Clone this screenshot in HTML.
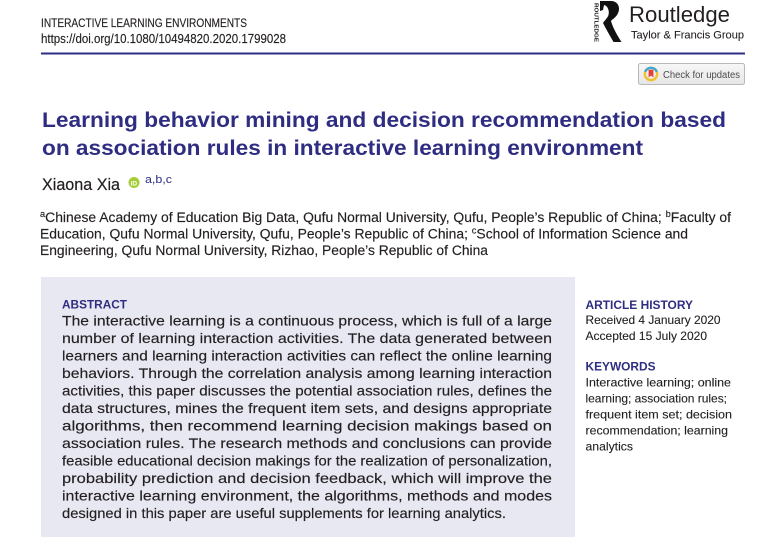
<!DOCTYPE html>
<html>
<head>
<meta charset="utf-8">
<style>
  html,body{margin:0;padding:0;background:#fff;}
  svg{display:block;}
  text{font-family:"Liberation Sans", sans-serif;}
</style>
</head>
<body>
<svg xmlns="http://www.w3.org/2000/svg" width="783" height="537" viewBox="0 0 783 537">
  <defs>
    <linearGradient id="btn" x1="0" y1="0" x2="0" y2="1">
      <stop offset="0" stop-color="#f7f7f7"/>
      <stop offset="1" stop-color="#e6e6e6"/>
    </linearGradient>
  </defs>
  <rect width="783" height="537" fill="#ffffff"/>

  <!-- Header -->
  <text x="41" y="27" font-size="11.5" fill="#231f20" stroke="#231f20" stroke-width="0.15" textLength="206" lengthAdjust="spacingAndGlyphs">INTERACTIVE LEARNING ENVIRONMENTS</text>
  <text x="41" y="43" font-size="12.5" fill="#231f20" stroke="#231f20" stroke-width="0.15" textLength="245" lengthAdjust="spacingAndGlyphs">https://doi.org/10.1080/10494820.2020.1799028</text>
  <rect x="41" y="52.5" width="704" height="2" fill="#2e2d82"/>

  <!-- Routledge logo -->
  <text transform="translate(594.5,3) rotate(90)" font-size="5.6" font-weight="bold" fill="#111" textLength="39" lengthAdjust="spacingAndGlyphs">ROUTLEDGE</text>
  <path d="M600,1 L612,1 C619,2 621,9 617,15 C615,18 612,19.5 611,21 C613,28 617,35 621.5,42 L613.5,42 C609.5,35 606,29 603,23 C605,20 607.5,18 608.5,15 C609.5,11 608,6 604,5 L603,10 L600,11 Z" fill="#111"/>
  <text x="629" y="22" font-size="22" fill="#231f20" textLength="101" lengthAdjust="spacingAndGlyphs">Routledge</text>
  <text x="631" y="38.5" font-size="11" fill="#231f20" stroke="#231f20" stroke-width="0.1" textLength="113" lengthAdjust="spacingAndGlyphs">Taylor &amp; Francis Group</text>

  <!-- Check for updates -->
  <rect x="638.5" y="63.5" width="106" height="21" rx="2" fill="url(#btn)" stroke="#b9b9b9"/>
  <circle cx="651" cy="74" r="6.2" fill="none" stroke="#f2c12e" stroke-width="2.4"/>
  <path d="M645.2,71.8 A6.2,6.2 0 0 1 656.8,71.8" fill="none" stroke="#3aa8d8" stroke-width="2.4"/>
  <path d="M648.6,69.8 L653.4,69.8 L653.4,77.4 L651,75.6 L648.6,77.4 Z" fill="#e4403b"/>
  <text x="663" y="78" font-size="10" fill="#4d4d4d" textLength="77" lengthAdjust="spacingAndGlyphs">Check for updates</text>

  <!-- Title -->
  <text x="42" y="127" font-size="21" font-weight="bold" fill="#2e2d82" textLength="684" lengthAdjust="spacingAndGlyphs">Learning behavior mining and decision recommendation based</text>
  <text x="42" y="155" font-size="21" font-weight="bold" fill="#2e2d82" textLength="601" lengthAdjust="spacingAndGlyphs">on association rules in interactive learning environment</text>

  <!-- Author -->
  <text x="42" y="190" font-size="17" fill="#231f20" stroke="#231f20" stroke-width="0.2" textLength="78" lengthAdjust="spacingAndGlyphs">Xiaona Xia</text>
  <circle cx="134" cy="182.5" r="5.5" fill="#a6ce39"/>
  <text x="130.6" y="185.3" font-size="6.5" font-weight="bold" fill="#ffffff">iD</text>
  <text x="145" y="183" font-size="11" fill="#2e2d82" textLength="27" lengthAdjust="spacingAndGlyphs">a,b,c</text>

  <!-- Affiliations -->
  <g fill="#231f20" stroke="#231f20" stroke-width="0.15">
  <text x="40" y="222" font-size="13.5" textLength="691" lengthAdjust="spacingAndGlyphs"><tspan font-size="9" dy="-5">a</tspan><tspan dy="5">Chinese Academy of Education Big Data, Qufu Normal University, Qufu, People’s Republic of China; </tspan><tspan font-size="9" dy="-5">b</tspan><tspan dy="5">Faculty of</tspan></text>
  <text x="40" y="238.5" font-size="13.5" textLength="648" lengthAdjust="spacingAndGlyphs">Education, Qufu Normal University, Qufu, People’s Republic of China; <tspan font-size="9" dy="-5">c</tspan><tspan dy="5">School of Information Science and</tspan></text>
  <text x="40" y="255" font-size="13.5" textLength="448" lengthAdjust="spacingAndGlyphs">Engineering, Qufu Normal University, Rizhao, People’s Republic of China</text>
  </g>

  <!-- Abstract box -->
  <rect x="41" y="277" width="534" height="260" fill="#e8e8f3"/>
  <text x="62" y="308.5" font-size="12" font-weight="bold" fill="#2e2d82" textLength="65" lengthAdjust="spacingAndGlyphs">ABSTRACT</text>
  <g font-size="14" fill="#231f20" stroke="#231f20" stroke-width="0.15">
    <text x="62" y="325.5" textLength="490" lengthAdjust="spacingAndGlyphs">The interactive learning is a continuous process, which is full of a large</text>
    <text x="62" y="343" textLength="490" lengthAdjust="spacingAndGlyphs">number of learning interaction activities. The data generated between</text>
    <text x="62" y="360.5" textLength="490" lengthAdjust="spacingAndGlyphs">learners and learning interaction activities can reflect the online learning</text>
    <text x="62" y="378" textLength="490" lengthAdjust="spacingAndGlyphs">behaviors. Through the correlation analysis among learning interaction</text>
    <text x="62" y="395.5" textLength="490" lengthAdjust="spacingAndGlyphs">activities, this paper discusses the potential association rules, defines the</text>
    <text x="62" y="413" textLength="490" lengthAdjust="spacingAndGlyphs">data structures, mines the frequent item sets, and designs appropriate</text>
    <text x="62" y="430.5" textLength="490" lengthAdjust="spacingAndGlyphs">algorithms, then recommend learning decision makings based on</text>
    <text x="62" y="448" textLength="490" lengthAdjust="spacingAndGlyphs">association rules. The research methods and conclusions can provide</text>
    <text x="62" y="465.5" textLength="490" lengthAdjust="spacingAndGlyphs">feasible educational decision makings for the realization of personalization,</text>
    <text x="62" y="483" textLength="490" lengthAdjust="spacingAndGlyphs">probability prediction and decision feedback, which will improve the</text>
    <text x="62" y="500.5" textLength="490" lengthAdjust="spacingAndGlyphs">interactive learning environment, the algorithms, methods and modes</text>
    <text x="62" y="518" textLength="444" lengthAdjust="spacingAndGlyphs">designed in this paper are useful supplements for learning analytics.</text>
  </g>

  <!-- Right column -->
  <text x="585.5" y="309" font-size="12" font-weight="bold" fill="#2e2d82" textLength="107.5" lengthAdjust="spacingAndGlyphs">ARTICLE HISTORY</text>
  <g font-size="12" fill="#231f20" stroke="#231f20" stroke-width="0.12">
    <text x="585.5" y="324" textLength="135" lengthAdjust="spacingAndGlyphs">Received 4 January 2020</text>
    <text x="585.5" y="340" textLength="121.5" lengthAdjust="spacingAndGlyphs">Accepted 15 July 2020</text>
  </g>
  <text x="585.5" y="370.5" font-size="12" font-weight="bold" fill="#2e2d82" textLength="70" lengthAdjust="spacingAndGlyphs">KEYWORDS</text>
  <g font-size="12" fill="#231f20" stroke="#231f20" stroke-width="0.12">
    <text x="585.5" y="386.5" textLength="145.5" lengthAdjust="spacingAndGlyphs">Interactive learning; online</text>
    <text x="585.5" y="402.5" textLength="141.5" lengthAdjust="spacingAndGlyphs">learning; association rules;</text>
    <text x="585.5" y="418.5" textLength="146.5" lengthAdjust="spacingAndGlyphs">frequent item set; decision</text>
    <text x="585.5" y="434.5" textLength="142.5" lengthAdjust="spacingAndGlyphs">recommendation; learning</text>
    <text x="585.5" y="450.5" textLength="47.5" lengthAdjust="spacingAndGlyphs">analytics</text>
  </g>
</svg>
</body>
</html>
